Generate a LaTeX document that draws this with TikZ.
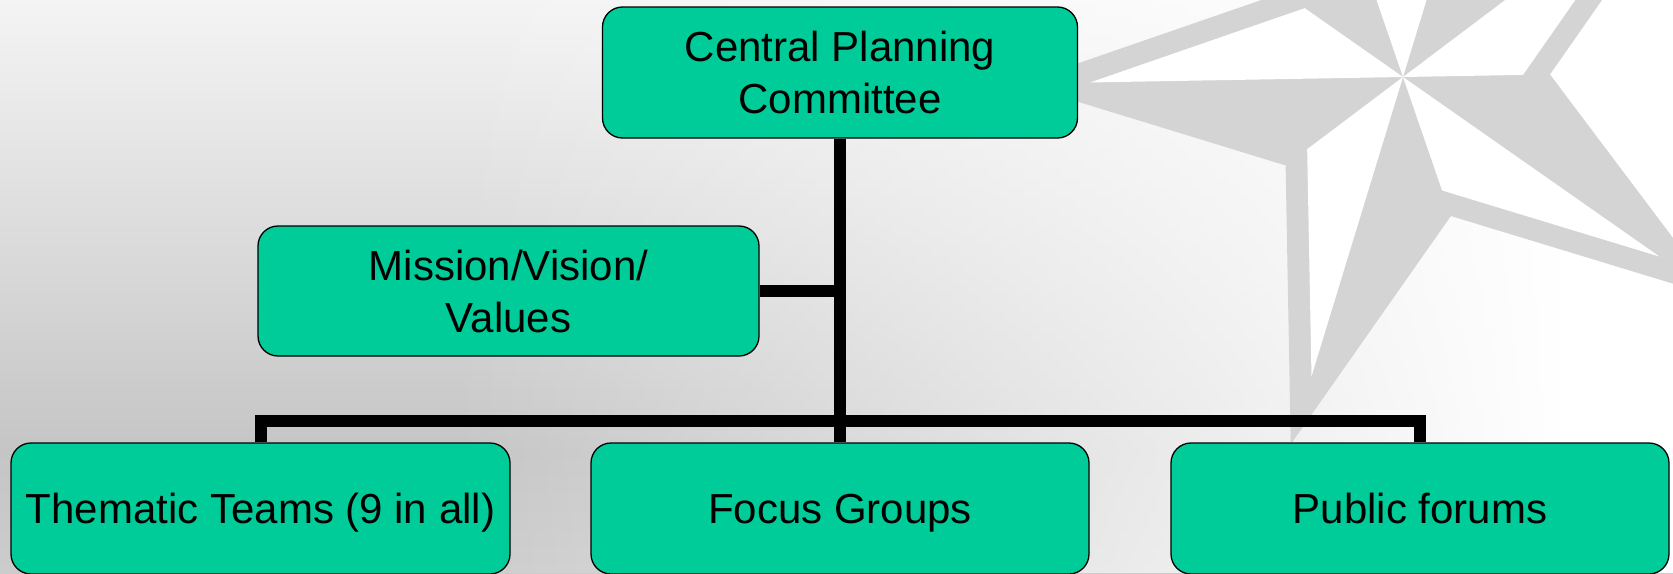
\documentclass[tikz,border=0pt]{standalone}
\usepackage{fontspec}
\setmainfont{Liberation Sans}
\usetikzlibrary{fadings}
\definecolor{boxgreen}{RGB}{0,204,153}
\definecolor{stargray}{RGB}{212,212,212}
\definecolor{bgtop}{RGB}{244,244,244}
\definecolor{bgmid}{RGB}{197,197,197}
\definecolor{bgbot}{RGB}{204,204,204}
\tikzfading[name=fadeleft, left color=transparent!100, right color=transparent!0]
\newcommand{\twolines}[2]{\begin{tabular}[t]{@{}c@{}}#1\\#2\end{tabular}}
\begin{document}
\begin{tikzpicture}[x=1pt, y=-1pt,
  orgbox/.style={draw=black, line width=1.3pt, fill=boxgreen, rounded corners=20pt,
    font=\fontsize{42}{52}\selectfont, inner sep=0pt, text height=30pt, text depth=0pt},
  twoline/.style={text depth=52pt},
  link/.style={line width=12pt, draw=black, line join=miter}]
\useasboundingbox (0,0) rectangle (1673,573);
\clip (0,0) rectangle (1673,573);
% background
\shade[top color=bgtop, bottom color=bgmid] (0,0) rectangle (1673,451);
\shade[top color=bgmid, bottom color=bgbot] (0,450) rectangle (1673,573);
\fill[white, path fading=fadeleft] (450,0) rectangle (1560,573);
\fill[white] (1559,0) rectangle (1673,573);
% star
\begin{scope}[shift={(1403,77)}]
  \fill[stargray] (-145:147) -- (-181:384) -- (-217:147) -- (-253:384) -- (-289:147)
    -- (-325:384) -- (-1:147) -- (-37:384) -- (-73:147) -- (-109:384) -- cycle;
  \fill[white] (0,0) -- (-145:120) -- (-181:313) -- cycle;
  \fill[white] (0,0) -- (-217:120) -- (-253:313) -- cycle;
  \fill[white] (0,0) -- (-289:120) -- (-325:313) -- cycle;
  \fill[white] (0,0) -- (-1:120) -- (-37:313) -- cycle;
  \fill[white] (0,0) -- (-73:120) -- (-109:313) -- cycle;
\end{scope}
% boxes
\node[orgbox, twoline, minimum width=475pt, minimum height=131pt] (cpc) at (840,72.5)
  {\twolines{Central Planning}{Committee}};
\node[orgbox, twoline, minimum width=501pt, minimum height=130pt] (mvv) at (508.5,291)
  {\twolines{Mission/Vision/}{Values}};
\node[orgbox, minimum width=499pt, minimum height=131pt] (tt) at (260.5,508.5)
  {Thematic Teams (9 in all)};
\node[orgbox, minimum width=498pt, minimum height=131pt] (fg) at (840,508.5)
  {Focus Groups};
\node[orgbox, minimum width=498pt, minimum height=131pt] (pf) at (1420,508.5)
  {Public forums};
% connectors
\coordinate (bus) at (0,421);
\draw[link] (cpc.south) -- (fg.north);
\draw[link] (mvv.east) -- (mvv.east -| cpc.south);
\draw[link] (tt.north) -- (tt.north |- bus) -- (pf.north |- bus) -- (pf.north);
\end{tikzpicture}
\end{document}
